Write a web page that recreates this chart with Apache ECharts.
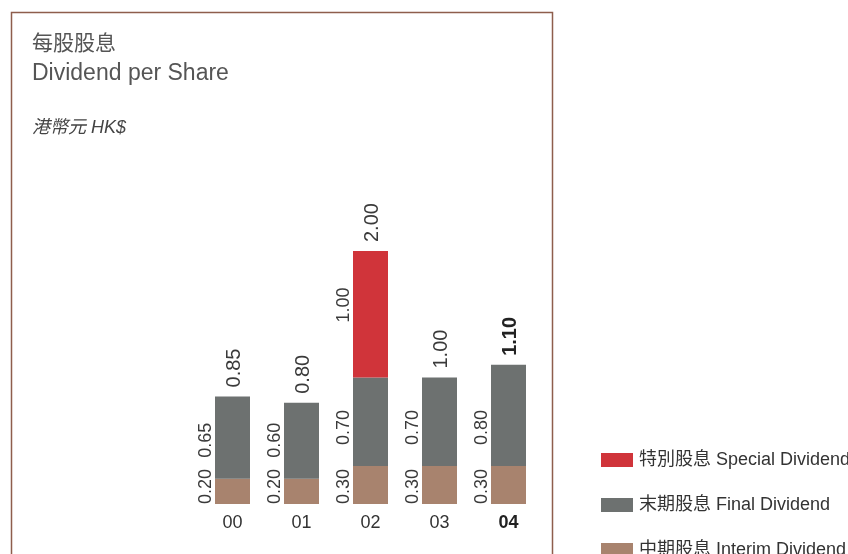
<!DOCTYPE html>
<html>
<head>
<meta charset="utf-8">
<script src="https://cdn.jsdelivr.net/npm/echarts@6/dist/echarts.min.js"></script>
<style>
  html, body { margin: 0; padding: 0; background: #fff; }
  #main { width: 848px; height: 554px; }
</style>
</head>
<body>
<div id="main"></div>
<script>
var years = ['00', '01', '02', '03', '04'];
var interim = [0.20, 0.20, 0.30, 0.30, 0.30];
var finalDiv = [0.65, 0.60, 0.70, 0.70, 0.80];
var special = [0, 0, 1.00, 0, 0];
var totals = ['0.85', '0.80', '2.00', '1.00', '1.10'];

var FONT = '"Liberation Sans", Arial, "Noto Sans CJK TC", sans-serif';
var chartDom = document.getElementById('main');
var myChart = echarts.init(chartDom);
var option;

// side labels, rotated 90deg; offset is in the rotated frame (x = up on screen)
function sideLabel(up) {
  return {
    show: true,
    rotate: 90,
    position: [0, '100%'],
    offset: [up, 0],
    align: 'left',
    verticalAlign: 'bottom',
    fontFamily: FONT,
    fontSize: 18,
    color: '#3a3a3a',
    formatter: function (p) { return p.value ? p.value.toFixed(2) : ''; }
  };
}

option = {
  animation: false,
  textStyle: { fontFamily: FONT },
  graphic: [
    {
      type: 'rect',
      shape: { x: 11.5, y: 12.5, width: 541, height: 600 },
      style: { fill: 'none', stroke: '#8e5e4c', lineWidth: 1.5 }
    },
    {
      type: 'text', left: 32, top: 34,
      style: { text: '每股股息', fontSize: 21, fill: '#555', fontFamily: FONT }
    },
    {
      type: 'text', left: 32, top: 62,
      style: { text: 'Dividend per Share', fontSize: 23, fill: '#555', fontFamily: FONT }
    },
    {
      type: 'text', left: 32, top: 119,
      style: { text: '港幣元 HK$', fontSize: 18, fontStyle: 'italic', fill: '#444', fontFamily: FONT }
    }
  ],
  legend: {
    data: ['特別股息 Special Dividend', '末期股息 Final Dividend', '中期股息 Interim Dividend'],
    orient: 'vertical',
    left: 596,
    top: 446,
    height: 200,
    width: 260,
    itemWidth: 32,
    itemHeight: 14,
    itemGap: 27,
    icon: 'rect',
    selectedMode: false,
    textStyle: { fontSize: 18, color: '#333', fontFamily: FONT, padding: [0, 0, 0, 1] }
  },
  grid: { left: 198, top: 251, width: 345, height: 253 },
  xAxis: {
    type: 'category',
    data: years,
    axisLine: { show: false },
    axisTick: { show: false },
    axisLabel: {
      margin: 10,
      fontSize: 18,
      color: '#333',
      fontFamily: FONT,
      formatter: function (v, i) { return i === years.length - 1 ? '{b|' + v + '}' : v; },
      rich: { b: { fontWeight: 'bold', fontSize: 18, color: '#222', fontFamily: FONT } }
    }
  },
  yAxis: {
    type: 'value',
    min: 0,
    max: 2,
    show: false,
    splitLine: { show: false }
  },
  series: [
    {
      name: '中期股息 Interim Dividend',
      type: 'bar',
      stack: 'd',
      barWidth: 35,
      itemStyle: { color: '#a8836e' },
      label: sideLabel(0),
      data: interim
    },
    {
      name: '末期股息 Final Dividend',
      type: 'bar',
      stack: 'd',
      itemStyle: { color: '#6d7170' },
      label: sideLabel(21),
      data: finalDiv
    },
    {
      name: '特別股息 Special Dividend',
      type: 'bar',
      stack: 'd',
      itemStyle: { color: '#d0343a' },
      label: sideLabel(55),
      data: special
    },
    {
      name: 'total',
      type: 'bar',
      stack: 'd',
      itemStyle: { color: 'transparent' },
      label: {
        show: true,
        position: 'top',
        distance: 9,
        rotate: 90,
        align: 'left',
        verticalAlign: 'middle',
        offset: [0, 2],
        fontSize: 20,
        color: '#3a3a3a',
        fontFamily: FONT,
        formatter: function (p) {
          return p.dataIndex === years.length - 1 ? '{b|' + totals[p.dataIndex] + '}' : totals[p.dataIndex];
        },
        rich: { b: { fontWeight: 'bold', fontSize: 20, color: '#222', fontFamily: FONT } }
      },
      data: [0, 0, 0, 0, 0]
    }
  ]
};

option && myChart.setOption(option);
</script>
</body>
</html>
